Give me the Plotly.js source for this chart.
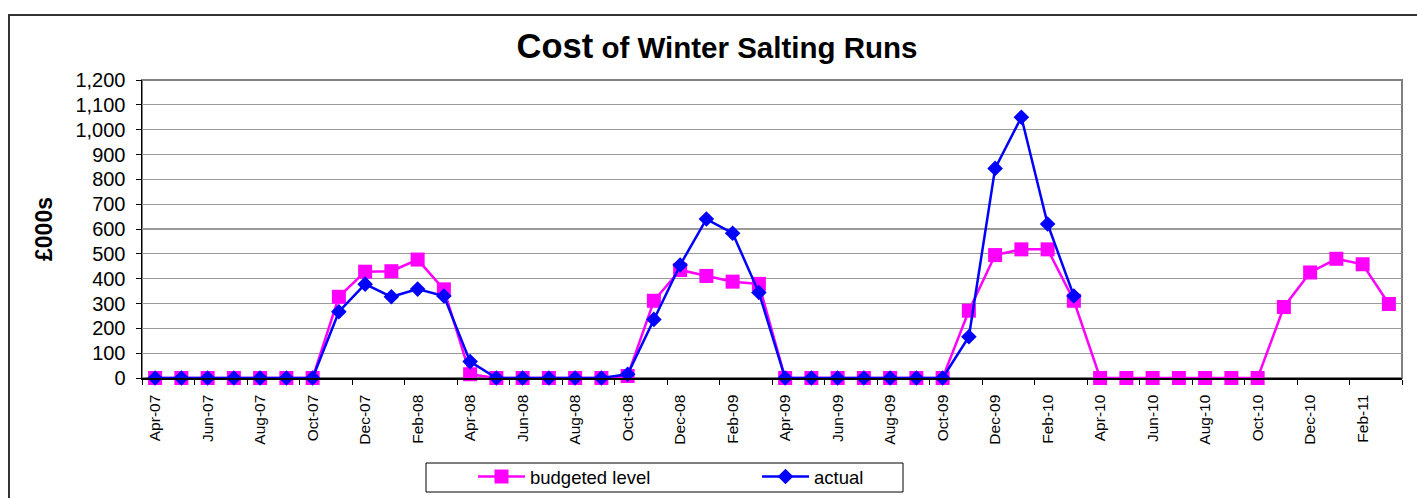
<!DOCTYPE html>
<html>
<head>
<meta charset="utf-8">
<script src="https://cdn.plot.ly/plotly-3.0.1.min.js"></script>
<style>
  html, body { margin: 0; padding: 0; background: #fff; }
  #chart { width: 1417px; height: 498px; }
</style>
</head>
<body>
<div id="chart"></div>
<script>
const months = [
  "Apr-07","May-07","Jun-07","Jul-07","Aug-07","Sep-07","Oct-07","Nov-07","Dec-07","Jan-08","Feb-08","Mar-08",
  "Apr-08","May-08","Jun-08","Jul-08","Aug-08","Sep-08","Oct-08","Nov-08","Dec-08","Jan-09","Feb-09","Mar-09",
  "Apr-09","May-09","Jun-09","Jul-09","Aug-09","Sep-09","Oct-09","Nov-09","Dec-09","Jan-10","Feb-10","Mar-10",
  "Apr-10","May-10","Jun-10","Jul-10","Aug-10","Sep-10","Oct-10","Nov-10","Dec-10","Jan-11","Feb-11","Mar-11"
];

const budgeted = [
  0, 0, 0, 0, 0, 0, 0, 327, 428, 430, 477, 357,
  15, 0, 0, 0, 0, 0, 8, 311, 435, 411, 388, 379,
  0, 0, 0, 0, 0, 0, 0, 271, 495, 518, 518, 311,
  0, 0, 0, 0, 0, 0, 0, 286, 425, 480, 458, 298
];

const actual = [
  0, 0, 0, 0, 0, 0, 0, 267, 378, 327, 358, 330,
  66, 0, 0, 0, 0, 0, 15, 236, 455, 640, 583, 344,
  0, 0, 0, 0, 0, 0, 0, 166, 844, 1050, 620, 330
];

const seriesNames = ["budgeted level", "actual"];
const yTicks = [0,100,200,300,400,500,600,700,800,900,1000,1100,1200];

const FONT = "Arial, 'Liberation Sans', sans-serif";

const traces = [
  {
    type: "scatter", mode: "lines+markers", name: seriesNames[0],
    x: months, y: budgeted,
    line: { color: "#FF00FF", width: 2.5 },
    marker: { symbol: "square", size: 14, color: "#FF00FF" },
    cliponaxis: false
  },
  {
    type: "scatter", mode: "lines+markers", name: seriesNames[1],
    x: months.slice(0, actual.length), y: actual,
    line: { color: "#0000FF", width: 2.5 },
    marker: { symbol: "diamond", size: 12, color: "#0000FF" },
    cliponaxis: false
  }
];

// plot-area pixel geometry helpers (margins)
const L = 142, R = 15, T = 80, B = 120, W = 1417, H = 498;
const pw = W - L - R, ph = H - T - B;
const px = v => (v - L) / pw;
const py = v => (H - B - v) / ph;

const layout = {
  width: W, height: H,
  margin: { l: L, r: R, t: T, b: B, pad: 0, autoexpand: false },
  paper_bgcolor: "#fff", plot_bgcolor: "#fff",
  font: { family: FONT, color: "#000" },
  title: {
    text: '<b><span style="font-size:34.5px">Cost</span> of Winter Salting Runs</b>',
    font: { family: FONT, size: 29.5, color: "#000" },
    xref: "container", x: 717 / W, xanchor: "center",
    yref: "container", y: 1 - 48 / H, yanchor: "middle"
  },
  showlegend: true,
  legend: {
    orientation: "h",
    x: px(473), xanchor: "left",
    y: py(458), yanchor: "top",
    bgcolor: "rgba(0,0,0,0)", borderwidth: 0,
    font: { family: FONT, size: 18.5, color: "#000" },
    itemwidth: 47,
    entrywidth: 222,
    traceorder: "normal"
  },
  xaxis: {
    type: "category",
    categoryorder: "array", categoryarray: months,
    range: [-0.5, months.length - 0.5],
    tickmode: "linear", tick0: 0, dtick: 2,
    tickson: "boundaries",
    ticks: "outside", ticklen: 5, tickwidth: 1, tickcolor: "#000",
    showline: true, linecolor: "#000", linewidth: 1.5,
    showgrid: false, zeroline: false,
    tickangle: -90,
    ticklabelstandoff: 9,
    tickfont: { family: FONT, size: 15.5, color: "#000" },
    automargin: false,
    fixedrange: true
  },
  yaxis: {
    range: [0, 1200],
    tickmode: "array", tickvals: yTicks,
    tickformat: ",d",
    ticks: "outside", ticklen: 5, tickwidth: 1, tickcolor: "#000",
    showline: true, linecolor: "#000", linewidth: 1.5,
    showgrid: true, gridcolor: "#999", gridwidth: 1.2,
    zeroline: false,
    tickfont: { family: FONT, size: 20, color: "#000" },
    ticklabelstandoff: 6,
    title: { text: "<b>£000s</b>", font: { family: FONT, size: 23, color: "#000" }, standoff: 16 },
    automargin: false,
    fixedrange: true
  },
  shapes: [
    { type: "rect", xref: "paper", yref: "paper", x0: 0, x1: 1, y0: 0, y1: 1,
      line: { color: "#808080", width: 2 }, layer: "below" },
    { type: "rect", xref: "paper", yref: "paper",
      x0: px(9), x1: px(1430), y0: py(520), y1: py(15),
      line: { color: "#333", width: 2 }, layer: "below" },
    { type: "rect", xref: "paper", yref: "paper",
      x0: px(426), x1: px(903), y0: py(492), y1: py(463),
      line: { color: "#000", width: 1 }, layer: "above" }
  ]
};

Plotly.newPlot("chart", traces, layout, { displayModeBar: false, staticPlot: true });
</script>
</body>
</html>
